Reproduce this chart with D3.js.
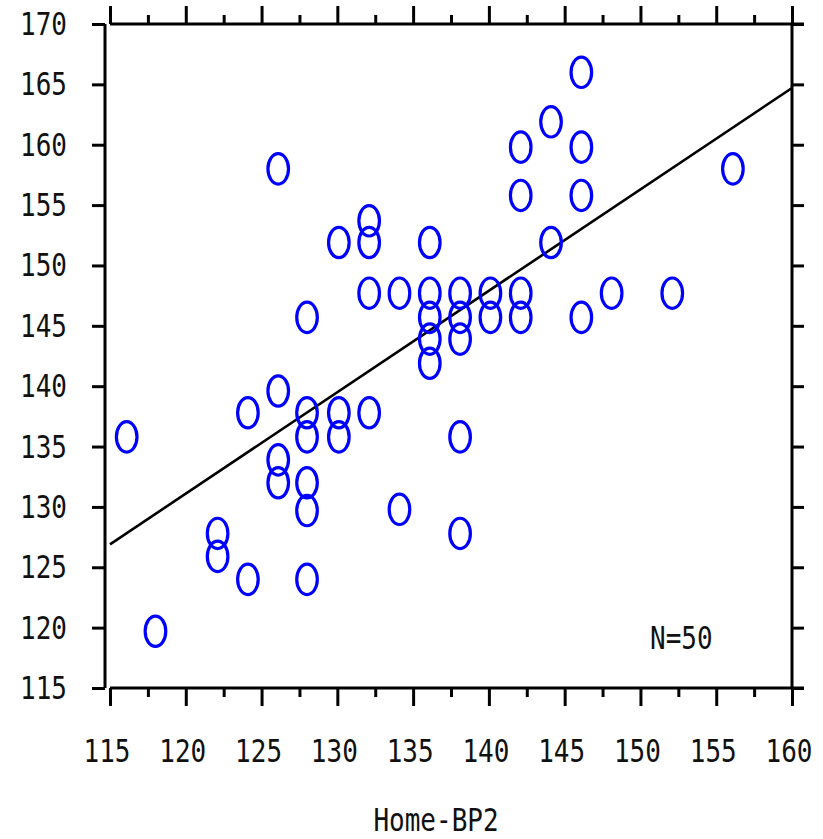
<!DOCTYPE html>
<head>
  <meta charset="utf-8">
  <script src="https://d3js.org/d3.v7.min.js"></script>
  <style>
body { margin: 0; background: white; }
svg { display: block; background-color: white; }
.lbl { font-family: "DejaVu Sans Mono", "Liberation Mono", monospace; font-size: 26px; fill: #111; }
  </style>
</head>
<body>
<svg width="823" height="839"></svg>
<script>
// Home-BP2 (x) vs office BP (y)
var homeBP = [116.1, 118, 122.1, 122.1, 124.1, 124.1, 126.1, 126.1, 126.1, 126.1,
              128, 128, 128, 128, 128, 128, 130.1, 130.1, 130.1, 132.1,
              132.1, 132.1, 132.1, 134.1, 134.1, 136.1, 136.1, 136.1, 136.1, 136.1,
              138.1, 138.1, 138.1, 138.1, 138.1, 140.1, 140.1, 142.1, 142.1, 142.1,
              142.1, 144.1, 144.1, 146.1, 146.1, 146.1, 146.1, 148.1, 152.1, 156.1];
var officeBP = [135.8, 119.7, 127.8, 125.9, 124.0, 137.8, 158.0, 139.6, 133.9, 132.0,
                145.7, 137.8, 135.8, 132.0, 129.7, 124.0, 151.9, 137.8, 135.8, 153.7,
                151.9, 147.7, 137.8, 147.7, 129.8, 151.9, 147.7, 145.7, 143.9, 141.9,
                147.7, 145.7, 143.9, 135.8, 127.8, 147.7, 145.7, 159.8, 155.8, 147.7,
                145.7, 161.9, 151.9, 166.0, 159.8, 155.8, 145.7, 147.7, 147.7, 158.0];
var fitX = [115, 160];
var fitY = [126.9, 164.7];
var xTicks = [115, 120, 125, 130, 135, 140, 145, 150, 155, 160];
var xMinor = [117.5, 122.5, 127.5, 132.5, 137.5, 142.5, 147.5, 152.5, 157.5];
var yTicks = [115, 120, 125, 130, 135, 140, 145, 150, 155, 160, 165, 170];
var xTitle = "Home-BP2";
var nLabel = "N=50";

var svg = d3.select("svg");
var x = d3.scaleLinear().domain([115, 160]).range([110, 792]);
var y = d3.scaleLinear().domain([115, 170]).range([688, 24]);

var axisW = 3;

function noDomain(g) { g.select(".domain").remove(); g.selectAll("line").attr("stroke", "#000").attr("stroke-width", axisW); }

// frame lines
svg.append("line").attr("x1", x(115) - 5).attr("x2", x(115) - 5).attr("y1", y(170)).attr("y2", y(115))
   .attr("stroke", "#000").attr("stroke-width", axisW);
svg.append("line").attr("x1", x(160)).attr("x2", x(160)).attr("y1", y(170)).attr("y2", y(115))
   .attr("stroke", "#000").attr("stroke-width", axisW);
svg.append("line").attr("x1", x(115)).attr("x2", x(160) + 12).attr("y1", y(115)).attr("y2", y(115))
   .attr("stroke", "#000").attr("stroke-width", axisW);
svg.append("line").attr("x1", x(115)).attr("x2", x(160) + 12).attr("y1", y(170)).attr("y2", y(170))
   .attr("stroke", "#000").attr("stroke-width", axisW);

// ticks
svg.append("g").attr("transform", "translate(0," + y(115) + ")")
   .call(d3.axisBottom(x).tickValues(xTicks).tickSize(18).tickFormat("")).call(noDomain);
svg.append("g").attr("transform", "translate(0," + y(115) + ")")
   .call(d3.axisBottom(x).tickValues(xMinor).tickSize(9).tickFormat("")).call(noDomain);
svg.append("g").attr("transform", "translate(0," + y(170) + ")")
   .call(d3.axisTop(x).tickValues(xTicks).tickSize(18).tickFormat("")).call(noDomain);
svg.append("g").attr("transform", "translate(0," + y(170) + ")")
   .call(d3.axisTop(x).tickValues(xMinor).tickSize(9).tickFormat("")).call(noDomain);
svg.append("g").attr("transform", "translate(" + (x(115) - 5) + ",0)")
   .call(d3.axisLeft(y).tickValues(yTicks).tickSize(13).tickFormat("")).call(noDomain);
svg.append("g").attr("transform", "translate(" + x(160) + ",0)")
   .call(d3.axisRight(y).tickValues(yTicks).tickSize(12).tickFormat("")).call(noDomain);

// labels (tall narrow glyphs)
function label(px, py, txt, anchor) {
  svg.append("g").attr("transform", "translate(" + px + "," + py + ")")
     .append("text").attr("class", "lbl").attr("text-anchor", anchor)
     .attr("transform", "scale(1,1.2)").text(txt);
}
yTicks.forEach(function(v) { label(67, y(v) + 11, v, "end"); });
xTicks.forEach(function(v) { label(x(v) - 3, 762, v, "middle"); });
label(436, 831, xTitle, "middle");
label(650, 649, nLabel, "start");

// regression line
svg.append("line")
   .attr("x1", x(fitX[0])).attr("y1", y(fitY[0]))
   .attr("x2", x(fitX[1])).attr("y2", y(fitY[1]))
   .attr("stroke", "#000").attr("stroke-width", 2.6);

// points
svg.append("g").selectAll("ellipse")
   .data(homeBP)
   .enter()
   .append("ellipse")
   .attr("cx", function(d) { return x(d); })
   .attr("cy", function(d, i) { return y(officeBP[i]); })
   .attr("rx", 10.3)
   .attr("ry", 15.2)
   .attr("fill", "none")
   .attr("stroke", "#0000ff")
   .attr("stroke-width", 3.2);
</script>
</body>
</html>
